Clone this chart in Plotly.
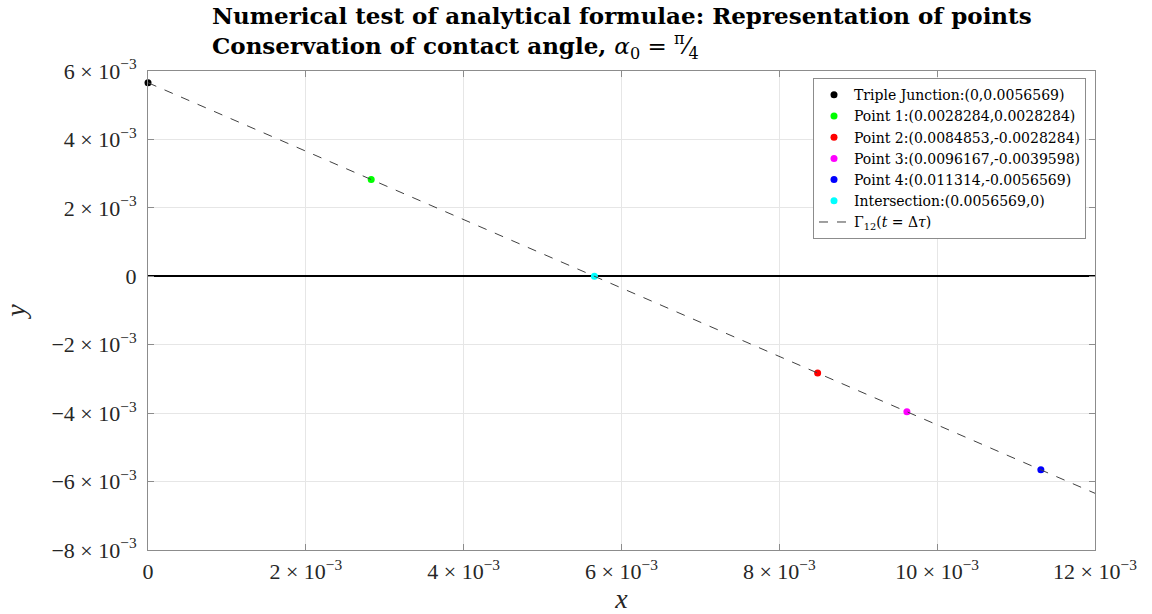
import plotly.graph_objects as go

names = ["Triple Junction:(0,0.0056569)", "Point 1:(0.0028284,0.0028284)",
         "Point 2:(0.0084853,-0.0028284)", "Point 3:(0.0096167,-0.0039598)",
         "Point 4:(0.011314,-0.0056569)", "Intersection:(0.0056569,0)"]
px = [0.0, 0.0028284, 0.0084853, 0.0096167, 0.011314, 0.0056569]
py = [0.0056569, 0.0028284, -0.0028284, -0.0039598, -0.0056569, 0.0]
colors = ["#000000", "#00ff00", "#ff0000", "#ff00ff", "#0000ff", "#00ffff"]

line_x = [0.0, 0.012]
line_y = [0.0056569, 0.0056569 - 0.012]

xticks = [0, 0.002, 0.004, 0.006, 0.008, 0.010, 0.012]
xticktext = ["0", "2 × 10<sup>−3</sup>", "4 × 10<sup>−3</sup>", "6 × 10<sup>−3</sup>",
             "8 × 10<sup>−3</sup>", "10 × 10<sup>−3</sup>", "12 × 10<sup>−3</sup>"]
yticks = [-0.008, -0.006, -0.004, -0.002, 0, 0.002, 0.004, 0.006]
yticktext = ["−8 × 10<sup>−3</sup>", "−6 × 10<sup>−3</sup>", "−4 × 10<sup>−3</sup>",
             "−2 × 10<sup>−3</sup>", "0", "2 × 10<sup>−3</sup>", "4 × 10<sup>−3</sup>",
             "6 × 10<sup>−3</sup>"]

FONT = "Liberation Serif"
fig = go.Figure()

for n, x, y, c in zip(names, px, py, colors):
    fig.add_trace(go.Scatter(x=[x], y=[y], mode="markers", name=n,
                             marker=dict(color=c, size=7), cliponaxis=False))

fig.add_trace(go.Scatter(x=line_x, y=line_y, mode="lines",
                         name="Γ<sub>12</sub>(<i>t</i> = Δ<i>τ</i>)",
                         line=dict(color="#404040", width=1, dash="dash")))

fig.update_layout(
    width=1152, height=614,
    margin=dict(l=148, r=57, t=71, b=64, autoexpand=False),
    plot_bgcolor="white", paper_bgcolor="white",
    font=dict(family=FONT, size=22, color="#262626"),
    showlegend=True,
    legend=dict(x=0.9905, y=0.985, xanchor="right", yanchor="top",
                bgcolor="white", bordercolor="#8c8c8c", borderwidth=1,
                font=dict(family="DejaVu Serif", size=14, color="#000000"),
                itemwidth=30, tracegroupgap=0),
    xaxis=dict(range=[0, 0.012], tickvals=xticks, ticktext=xticktext,
               showgrid=True, gridcolor="#e6e6e6", zeroline=False,
               showline=True, linecolor="#8c8c8c", mirror="allticks",
               ticks="inside", ticklen=6, tickcolor="#8c8c8c",
               automargin=False, ticklabelstandoff=2,
               title=dict(text="<i>x</i>", font=dict(size=28, color="#262626"), standoff=8)),
    yaxis=dict(range=[-0.008, 0.006], tickvals=yticks, ticktext=yticktext,
               showgrid=True, gridcolor="#e6e6e6", zeroline=True,
               zerolinecolor="#000000", zerolinewidth=2,
               showline=True, linecolor="#8c8c8c", mirror="allticks",
               ticks="inside", ticklen=6, tickcolor="#8c8c8c",
               automargin=False, ticklabelstandoff=6,
               title=dict(text="<i>y</i>", font=dict(size=28, color="#262626"), standoff=20)),
    annotations=[dict(
        text="<b>Numerical test of analytical formulae: Representation of points</b><br>"
             "<b>Conservation of contact angle, </b><i>α</i><sub>0</sub> = <sup>π</sup>⁄<sub>4</sub>",
        xref="paper", yref="paper", x=0.5, y=1.0, xanchor="center", yanchor="bottom",
        yshift=6, align="left", showarrow=False,
        font=dict(family="DejaVu Serif", size=23, color="#000000"))],
)

fig.write_html("out.html")
